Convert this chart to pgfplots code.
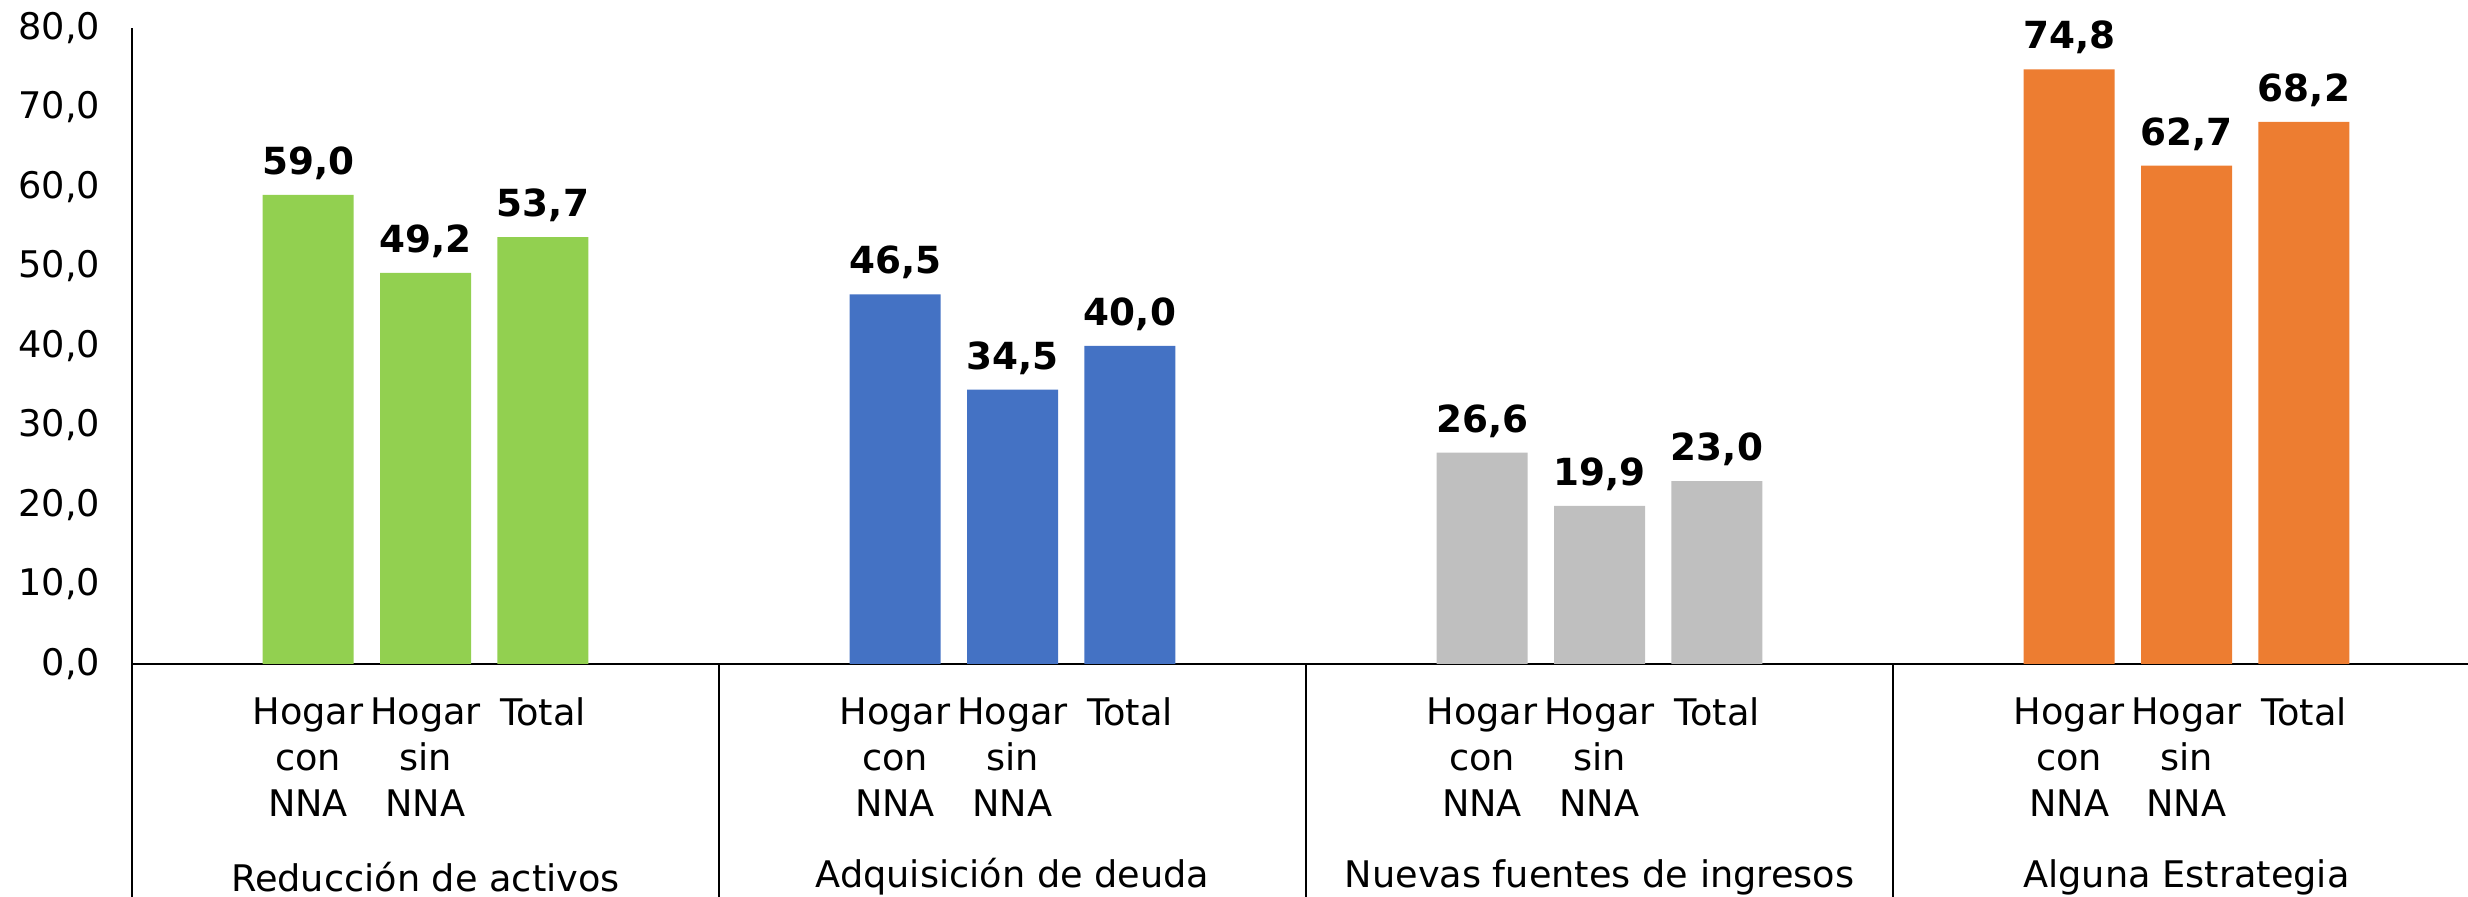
\documentclass[border=0pt]{standalone}
\usepackage{fontspec}
\setmainfont{DejaVu Sans}
\usepackage{pgfplots}
\pgfplotsset{compat=1.18}
\usetikzlibrary{calc}

\definecolor{cgreen}{HTML}{92D050}
\definecolor{cblue}{HTML}{4472C4}
\definecolor{cgray}{HTML}{BFBFBF}
\definecolor{corange}{HTML}{ED7D31}

\begin{document}
\begin{tikzpicture}
\begin{axis}[
    name=ax,
    scale only axis,
    width=704.4pt, height=190.8pt,
    ybar, bar width=27.3pt, bar shift=0pt,
    xmin=-0.5, xmax=3.5,
    ymin=0, ymax=80,
    ytick={0,10,...,80},
    axis x line*=bottom, axis y line*=left,
    axis line style={line width=0.7pt, -},
    major tick length=0pt,
    font=\fontsize{11}{13.8}\selectfont,
    /pgf/number format/.cd, fixed, fixed zerofill, precision=1, use comma, assume math mode=true,
    /pgfplots/.cd,
    yticklabel style={xshift=-6pt},
    xtick={-0.2,0,0.2,0.8,1,1.2,1.8,2,2.2,2.8,3,3.2},
    xticklabels={{Hogar\\con\\NNA},{Hogar\\sin\\NNA},Total,
                 {Hogar\\con\\NNA},{Hogar\\sin\\NNA},Total,
                 {Hogar\\con\\NNA},{Hogar\\sin\\NNA},Total,
                 {Hogar\\con\\NNA},{Hogar\\sin\\NNA},Total},
    xticklabel style={align=center, anchor=north, yshift=-6.5pt},
    nodes near coords,
    every node near coord/.append style={font=\fontsize{11.2}{13}\selectfont\bfseries, yshift=1pt},
    clip=false,
]
\addplot[draw=none, fill=cgreen] coordinates {(-0.2,59.0) (0,49.2) (0.2,53.7)};
\addplot[draw=none, fill=cblue] coordinates {(0.8,46.5) (1,34.5) (1.2,40.0)};
\addplot[draw=none, fill=cgray] coordinates {(1.8,26.6) (2,19.9) (2.2,23.0)};
\addplot[draw=none, fill=corange] coordinates {(2.8,74.8) (3,62.7) (3.2,68.2)};

\node[font=\fontsize{11}{13}\selectfont] at ([yshift=-63.9pt]axis cs:0,0) {Reducción de activos};
\node[font=\fontsize{11}{13}\selectfont] at ([yshift=-63.9pt]axis cs:1,0) {Adquisición de deuda};
\node[font=\fontsize{11}{13}\selectfont] at ([yshift=-63.9pt]axis cs:2,0) {Nuevas fuentes de ingresos};
\node[font=\fontsize{11}{13}\selectfont] at ([yshift=-63.9pt]axis cs:3,0) {Alguna Estrategia};
\end{axis}
\draw[line width=0.7pt] (ax.south west) -- ++(0,-80pt);
\foreach \f in {0.25,0.5,0.75}
  \draw[line width=0.4pt] ($(ax.south west)!\f!(ax.south east)$) -- ++(0,-80pt);
\pgfresetboundingbox
\useasboundingbox ($(ax.south west)+(-39.6pt,-69.9pt)$) rectangle ($(ax.north east)+(-3.6pt,8.4pt)$);
\end{tikzpicture}
\end{document}
